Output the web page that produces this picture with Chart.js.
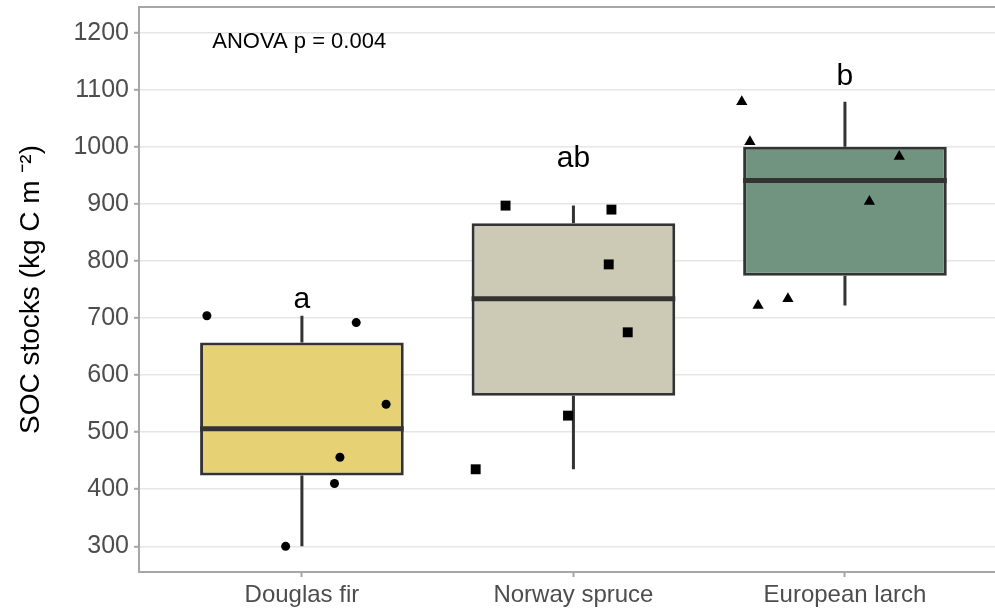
<!DOCTYPE html>
<html>
<head>
<meta charset="utf-8">
<script src="https://cdn.jsdelivr.net/npm/chart.js@4.4.0/dist/chart.umd.min.js"></script>
<style>
  html, body { margin: 0; padding: 0; background: #fff; overflow: hidden; }
  #wrap { width: 1004px; height: 610px; position: relative; }
  canvas { display: block; }
</style>
</head>
<body>
<div id="wrap"><canvas id="soc"></canvas></div>
<script>
// categories
const species = ['Douglas fir', 'Norway spruce', 'European larch'];

// box statistics per species
const whiskerLow  = [300, 435, 722];
const q1          = [424, 564, 774];
const median      = [506, 734, 941];
const q3          = [657, 866, 1000];
const whiskerHigh = [704, 897, 1079];

// single plots (SOC, kg C m-2) and their horizontal jitter
const douglasSOC    = [704, 692, 549, 456, 410, 300];
const douglasJitter = [-0.35, 0.20, 0.31, 0.14, 0.12, -0.06];
const spruceSOC     = [897, 890, 794, 675, 529, 435];
const spruceJitter  = [-0.25, 0.14, 0.13, 0.20, -0.02, -0.36];
const larchSOC      = [1079, 1009, 983, 904, 734, 722];
const larchJitter   = [-0.38, -0.35, 0.20, 0.09, -0.21, -0.32];

// group letters (Tukey) and their heights
const groupLetters = ['a', 'ab', 'b'];
const letterY      = [718, 964, 1109];
const anovaText    = 'ANOVA p = 0.004';
const anovaPos     = [-0.33, 1174];

// axis ticks
const yTicks = [300, 350, 400, 450, 500, 550, 600, 650, 700, 750, 800, 850, 900, 950, 1000, 1050, 1100, 1150, 1200];

const boxFill = ['#e6d274', '#cccab4', '#709480'];
const FONT = '"Liberation Sans", Arial, sans-serif';

Chart.defaults.font.family = FONT;
Chart.defaults.color = '#4d4d4d';

function pts(values, jitter, idx) {
  return values.map((v, j) => ({ x: idx + jitter[j], y: v }));
}

const whiskerData = [];
const medianData = [];
species.forEach((s, i) => {
  whiskerData.push({x: i, y: q3[i]}, {x: i, y: whiskerHigh[i]}, {x: i, y: null});
  whiskerData.push({x: i, y: q1[i]}, {x: i, y: whiskerLow[i]}, {x: i, y: null});
  medianData.push({x: i - 0.375, y: median[i]}, {x: i + 0.375, y: median[i]}, {x: i, y: null});
});

const annotate = {
  id: 'annotate',
  afterDatasetsDraw(chart) {
    const {ctx, chartArea, scales: {x, y}} = chart;
    ctx.save();
    // top panel border
    ctx.strokeStyle = '#a6a6a6';
    ctx.lineWidth = 2;
    ctx.beginPath();
    ctx.moveTo(chartArea.left, chartArea.top);
    ctx.lineTo(chartArea.right, chartArea.top);
    ctx.stroke();
    // letters
    ctx.fillStyle = '#000';
    ctx.textAlign = 'center';
    ctx.textBaseline = 'alphabetic';
    ctx.font = '30px ' + FONT;
    groupLetters.forEach((t, i) => {
      ctx.fillText(t, x.getPixelForValue(i), y.getPixelForValue(letterY[i]));
    });
    ctx.font = '22px ' + FONT;
    ctx.textAlign = 'left';
    ctx.fillText(anovaText, x.getPixelForValue(anovaPos[0]), y.getPixelForValue(anovaPos[1]));
    ctx.restore();
  }
};

new Chart(document.getElementById('soc'), {
  type: 'bar',
  data: {
    datasets: [
      {
        type: 'scatter', label: 'Douglas fir', data: pts(douglasSOC, douglasJitter, 0),
        pointStyle: 'circle', pointRadius: 4.5, backgroundColor: '#000', borderColor: '#000', borderWidth: 0, order: 0
      },
      {
        type: 'scatter', label: 'Norway spruce', data: pts(spruceSOC, spruceJitter, 1),
        pointStyle: 'rect', pointRadius: 7, backgroundColor: '#000', borderColor: '#000', borderWidth: 0, order: 0
      },
      {
        type: 'scatter', label: 'European larch', data: pts(larchSOC, larchJitter, 2),
        pointStyle: 'triangle', pointRadius: 6.5, backgroundColor: '#000', borderColor: '#000', borderWidth: 0, order: 0
      },
      {
        type: 'line', label: 'median', data: medianData,
        borderColor: '#333333', borderWidth: 5, borderCapStyle: 'butt', pointRadius: 0, spanGaps: false, order: 1
      },
      {
        type: 'bar', label: 'IQR',
        data: species.map((s, i) => ({x: i, y: [q1[i], q3[i]]})),
        backgroundColor: boxFill, borderColor: '#333333', borderWidth: 3, borderSkipped: false,
        barPercentage: 0.75, categoryPercentage: 1, order: 2
      },
      {
        type: 'line', label: 'whiskers', data: whiskerData,
        borderColor: '#333333', borderWidth: 3, borderCapStyle: 'butt', pointRadius: 0, spanGaps: false, order: 3
      }
    ]
  },
  options: {
    responsive: true,
    maintainAspectRatio: false,
    animation: false,
    layout: { padding: { top: 7, right: 0, left: 0, bottom: 0 } },
    plugins: { legend: { display: false }, tooltip: { enabled: false } },
    scales: {
      x: {
        type: 'linear',
        offset: false,
        min: -0.6,
        max: 2.56,
        afterBuildTicks: s => { s.ticks = species.map((c, i) => ({value: i})); },
        afterFit: s => { s.height = 38; s.paddingLeft = 0; s.paddingRight = 0; },
        ticks: {
          callback: v => species[v],
          autoSkip: false, maxRotation: 0, padding: 4,
          color: '#4d4d4d', font: { size: 24 }
        },
        grid: { offset: false, drawOnChartArea: false, drawTicks: true, tickLength: 5, tickColor: '#a6a6a6', tickWidth: 2 },
        border: { color: '#a6a6a6', width: 2 }
      },
      y: {
        type: 'linear',
        min: 255,
        max: 1245,
        afterBuildTicks: s => { s.ticks = yTicks.map(v => ({value: v})); },
        afterFit: s => { s.width = 139; s.paddingTop = 0; s.paddingBottom = 0; },
        ticks: {
          callback: v => (v % 100 === 0 ? String(v) : ''),
          padding: 5, color: '#4d4d4d', font: { size: 25 }
        },
        grid: {
          color: c => (c.tick && c.tick.value % 100 === 0 ? '#e6e6e6' : '#efefef'),
          lineWidth: c => (c.tick && c.tick.value % 100 === 0 ? 1.6 : 1.2),
          tickLength: 5,
          tickColor: c => (c.tick && c.tick.value % 100 === 0 ? '#a6a6a6' : 'rgba(0,0,0,0)'),
          tickWidth: 2
        },
        border: { color: '#a6a6a6', width: 2 },
        title: {
          display: true,
          text: 'SOC stocks (kg C m \u207B\u00B2)',
          color: '#000',
          font: { size: 28 },
          padding: { top: 14, bottom: 0 }
        }
      }
    }
  },
  plugins: [annotate]
});
</script>
</body>
</html>
